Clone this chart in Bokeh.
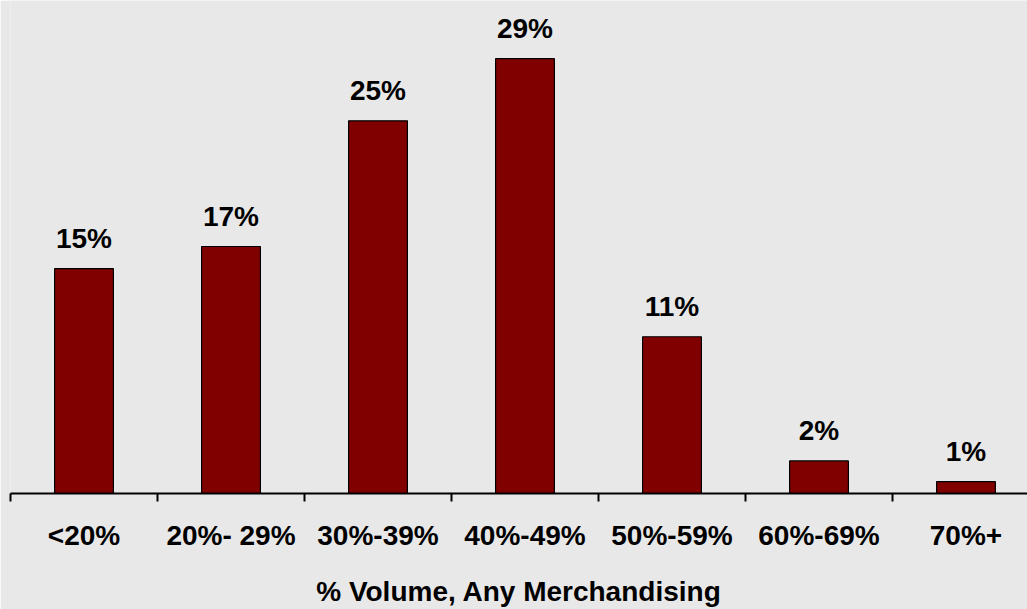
from bokeh.plotting import figure
from bokeh.models import Range1d, FixedTicker, ColumnDataSource, LabelSet
from bokeh.core.properties import value
from bokeh.embed import file_html
from bokeh.resources import INLINE

categories = ["<20%", "20%- 29%", "30%-39%", "40%-49%", "50%-59%", "60%-69%", "70%+"]
values = [15.2, 16.7, 25.2, 29.4, 10.6, 2.2, 0.8]
value_labels = ["15%", "17%", "25%", "29%", "11%", "2%", "1%"]

BG = "#e8e8e8"
FONT = "Liberation Sans"

xs = [i + 0.5 for i in range(len(categories))]
src = ColumnDataSource(dict(x=xs, top=values, lab=value_labels))

p = figure(width=1027, height=609, output_backend="svg", toolbar_location=None,
           x_range=Range1d(0, 1017 / 147), y_range=Range1d(0, 494 / 14.82),
           min_border_left=10, min_border_right=0, min_border_top=0, min_border_bottom=115)
p.background_fill_color = BG
p.border_fill_color = BG
p.outline_line_color = None
p.grid.visible = False
p.yaxis.visible = False

p.vbar(x="x", top="top", width=0.40, bottom=0, source=src,
       fill_color="#800000", line_color="black", line_width=1.2)

labels = LabelSet(x="x", y="top", text="lab", source=src, text_align="center",
                  text_baseline="alphabetic", y_offset=21,
                  text_font=value(FONT), text_font_style="bold", text_font_size="28px",
                  text_color="black")
p.add_layout(labels)

ax = p.xaxis[0]
ax.ticker = FixedTicker(ticks=xs, minor_ticks=list(range(len(categories) + 1)))
ax.major_label_overrides = {x: c for x, c in zip(xs, categories)}
ax.major_tick_out = 0
ax.major_tick_in = 0
ax.minor_tick_out = 8
ax.minor_tick_in = 0
ax.minor_tick_line_color = "black"
ax.minor_tick_line_width = 2
ax.axis_line_color = "black"
ax.axis_line_width = 2
ax.major_label_standoff = 18
ax.major_label_text_font = FONT
ax.major_label_text_font_style = "bold"
ax.major_label_text_font_size = "28px"
ax.major_label_text_color = "black"
ax.axis_label = "% Volume, Any Merchandising"
ax.axis_label_text_font = FONT
ax.axis_label_text_font_style = "bold"
ax.axis_label_text_font_size = "28px"
ax.axis_label_text_color = "black"
ax.axis_label_standoff = 22

open("out.html", "w").write(file_html(p, INLINE))
